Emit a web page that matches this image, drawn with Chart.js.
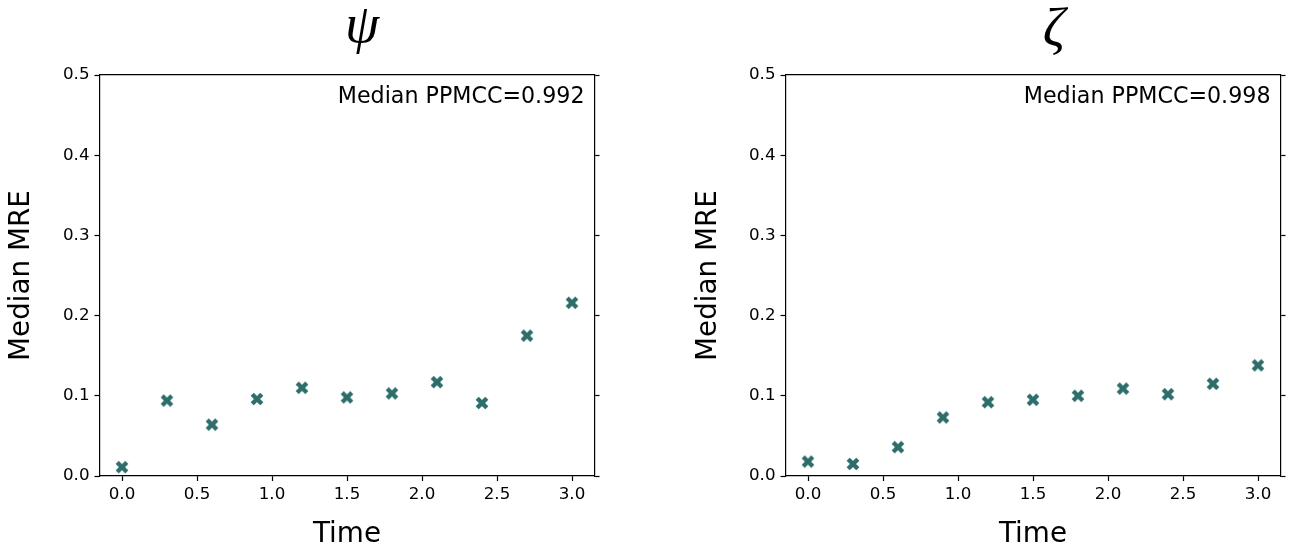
<!DOCTYPE html>
<html>
<head>
<meta charset="utf-8">
<script src="https://cdn.jsdelivr.net/npm/chart.js"></script>
<style>
body { margin: 0; background: #fff; width: 1295px; height: 551px; overflow: hidden; position: relative; }
canvas { position: absolute; top: 0; }
</style>
</head>
<body>
<canvas id="psi" width="647" height="551" style="left:0px"></canvas>
<canvas id="zeta" width="608" height="551" style="left:687px"></canvas>
<script>
const times = [0, 0.3, 0.6, 0.9, 1.2, 1.5, 1.8, 2.1, 2.4, 2.7, 3.0]
const psiMre = [0.011, 0.094, 0.064, 0.096, 0.110, 0.098, 0.103, 0.117, 0.091, 0.175, 0.216]
const zetaMre = [0.018, 0.015, 0.036, 0.073, 0.092, 0.095, 0.100, 0.109, 0.102, 0.115, 0.138]
const xTicks = [0, 0.5, 1.0, 1.5, 2.0, 2.5, 3.0]
const yTicks = [0, 0.1, 0.2, 0.3, 0.4, 0.5]
const psiLabel = "Median PPMCC=0.992"
const zetaLabel = "Median PPMCC=0.998"

const font = "'DejaVu Sans', sans-serif"
const markerColor = '#2d6e6a'

// filled "X" marker like matplotlib's 'X'
function makeMarker() {
    const c = document.createElement('canvas')
    c.width = 14
    c.height = 14
    const g = c.getContext('2d')
    g.strokeStyle = markerColor
    g.lineWidth = 4.4
    g.lineCap = 'butt'
    g.beginPath()
    g.moveTo(2.2, 2.2); g.lineTo(11.8, 11.8)
    g.moveTo(11.8, 2.2); g.lineTo(2.2, 11.8)
    g.stroke()
    return c
}
const marker = makeMarker()

function plotPanel(id, symbol, symbolX, symbolY, values, label, axisWidth, rightPad) {
    const decor = {
        id: 'decor',
        afterDraw(chart) {
            const ctx = chart.ctx
            const a = chart.chartArea
            ctx.save()
            ctx.fillStyle = '#000'
            ctx.font = "italic 55px 'Liberation Serif', serif"
            ctx.textAlign = 'center'
            ctx.textBaseline = 'alphabetic'
            ctx.fillText(symbol, symbolX, symbolY)
            ctx.font = "22.2px " + font
            ctx.textAlign = 'right'
            ctx.fillText(label, a.right - 10, a.top + 28)
            ctx.restore()
        }
    }
    new Chart(id, {
        type: 'scatter',
        data: {
            datasets: [{
                data: times.map((t, i) => ({x: t, y: values[i]})),
                pointStyle: marker,
                pointRadius: 7,
                pointHoverRadius: 7
            }]
        },
        options: {
            responsive: false,
            animation: false,
            devicePixelRatio: 1,
            layout: {padding: {top: 75, left: 0, right: rightPad, bottom: 0}},
            plugins: {legend: {display: false}, tooltip: {enabled: false}},
            scales: {
                x: {
                    type: 'linear', position: 'bottom', min: -0.15, max: 3.15,
                    afterBuildTicks: s => { s.ticks = xTicks.map(v => ({value: v})) },
                    afterFit: s => { s.height = 75 },
                    grid: {drawOnChartArea: false, drawTicks: true, tickLength: 5, color: '#000', tickWidth: 1.2},
                    border: {display: true, color: '#000', width: 1.2},
                    ticks: {color: '#000', padding: 4, font: {family: font, size: 16.7}, maxRotation: 0,
                        callback: v => v.toFixed(1)},
                    title: {display: true, text: 'Time', color: '#000', font: {family: font, size: 27.8},
                        padding: {top: 0, bottom: 0}}
                },
                x2: {
                    type: 'linear', position: 'top', min: -0.15, max: 3.15,
                    afterFit: s => { s.height = 0 },
                    grid: {drawOnChartArea: false, drawTicks: false},
                    border: {display: true, color: '#000', width: 1.2},
                    ticks: {display: false}
                },
                y: {
                    type: 'linear', position: 'left', min: 0, max: 0.5,
                    afterBuildTicks: s => { s.ticks = yTicks.map(v => ({value: v})) },
                    afterFit: s => { s.width = axisWidth },
                    grid: {drawOnChartArea: false, drawTicks: true, tickLength: 5, color: '#000', tickWidth: 1.2},
                    border: {display: true, color: '#000', width: 1.2},
                    ticks: {color: '#000', padding: 5, font: {family: font, size: 16.7},
                        callback: v => v.toFixed(1)},
                    title: {display: true, text: 'Median MRE', color: '#000', font: {family: font, size: 27.8},
                        padding: {top: 5, bottom: 0}}
                },
                y2: {
                    type: 'linear', position: 'right', min: 0, max: 0.5,
                    afterBuildTicks: s => { s.ticks = yTicks.map(v => ({value: v})) },
                    afterFit: s => { s.width = 6 },
                    grid: {drawOnChartArea: false, drawTicks: true, tickLength: 5, color: '#000', tickWidth: 1.2},
                    border: {display: true, color: '#000', width: 1.2},
                    ticks: {display: false}
                }
            }
        },
        plugins: [decor]
    })
}

plotPanel('psi', 'ψ', 362, 42, psiMre, psiLabel, 99.5, 46.5)
plotPanel('zeta', 'ζ', 367, 46, zetaMre, zetaLabel, 98.5, 8.5)
</script>
</body>
</html>
